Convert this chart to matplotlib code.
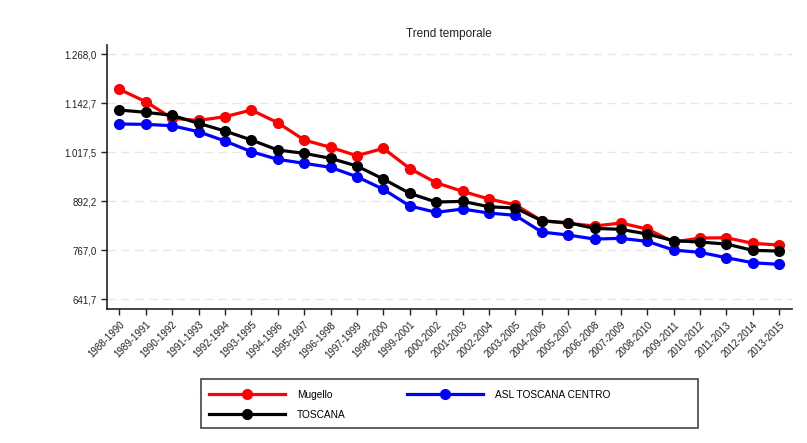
import matplotlib
matplotlib.use("Agg")
import matplotlib.pyplot as plt
from matplotlib.patches import Rectangle
from matplotlib.ticker import FixedLocator, FuncFormatter

plt.rcParams['font.family'] = ['Liberation Sans', 'DejaVu Sans']

periods = [f"{y}-{y+2}" for y in range(1988, 2014)]
mugello = [1178.5, 1146.8, 1104.3, 1099.0, 1108.5, 1125.6, 1093.1, 1048.9, 1030.2, 1008.7,
           1027.6, 976.0, 939.7, 917.7, 898.0, 883.4, 842.5, 835.9, 829.0, 836.6,
           821.3, 788.0, 798.3, 799.0, 784.7, 780.4]
asl = [1089.8, 1089.0, 1085.4, 1070.1, 1046.3, 1019.0, 999.5, 989.3, 979.1, 955.0,
       922.9, 880.3, 864.0, 872.4, 862.2, 856.3, 813.6, 806.0, 795.7, 797.5,
       789.8, 767.6, 761.7, 748.0, 735.1, 731.0]
toscana = [1125.6, 1119.7, 1112.0, 1091.6, 1071.9, 1048.9, 1023.3, 1014.9, 1002.1, 982.4,
           949.1, 912.6, 890.3, 892.1, 878.3, 875.0, 842.5, 837.4, 823.1, 820.5,
           808.5, 791.4, 788.0, 782.9, 766.8, 765.0]
yticks = [641.7, 767.0, 892.2, 1017.5, 1142.7, 1268.0]
series_names = ["Mugello", "TOSCANA", "ASL TOSCANA CENTRO"]

W, H = 807, 443
fig = plt.figure(figsize=(W / 100, H / 100), dpi=100)
ax = fig.add_axes([0.1326, 0.3018, 0.8484, 0.5966])

x = list(range(len(periods)))
lw, ms = 2.3, 7
ax.plot(x, mugello, color='#ff0000', lw=lw, marker='o', ms=ms, label=series_names[0], zorder=3)
ax.plot(x, toscana, color='#000000', lw=lw, marker='o', ms=ms, label=series_names[1], zorder=4)
ax.plot(x, asl, color='#0000ff', lw=lw, marker='o', ms=ms, label=series_names[2], zorder=3)

ax.set_xlim(-0.47, len(periods) - 1 + 0.47)
ax.set_ylim(616.1, 1291.8)
ax.yaxis.set_major_locator(FixedLocator(yticks))

def itfmt(v, pos):
    s = f"{v:,.1f}"
    return s.replace(",", "X").replace(".", ",").replace("X", ".")

ax.yaxis.set_major_formatter(FuncFormatter(itfmt))
ax.set_xticks(x)
ax.set_xticklabels(periods, rotation=45, ha='right', rotation_mode='anchor', fontsize=7, color='#333333')
ax.tick_params(axis='y', labelsize=7, colors='#222222', length=4, width=1)
ax.tick_params(axis='x', length=4, width=1, colors='#222222')

for s in ['top', 'right']:
    ax.spines[s].set_visible(False)
for s in ['left', 'bottom']:
    ax.spines[s].set_linewidth(1.2)
    ax.spines[s].set_color('#222222')

ax.grid(axis='y', color='#e6e6e6', linestyle=(0, (6, 4)), linewidth=1.0, zorder=0)
ax.set_axisbelow(True)

ax.set_title("Trend temporale", fontsize=8.5, color='#222222', pad=6)

# legend frame
fig.patches.append(Rectangle((200.7 / W, 1 - 428.3 / H), (698 - 200.7) / W, (428.3 - 379) / H,
                             transform=fig.transFigure, fill=False, edgecolor='#444444',
                             linewidth=1.2))

fs = 7.3
leg = fig.legend(loc='upper left', bbox_to_anchor=(209 / W, 1 - 389.5 / H), ncol=2,
                 fontsize=fs, frameon=False, borderpad=0, borderaxespad=0,
                 handlelength=7.5, columnspacing=6.0, handletextpad=1.2,
                 labelspacing=1.0)

fig.savefig("out.png", dpi=100, facecolor='white')
